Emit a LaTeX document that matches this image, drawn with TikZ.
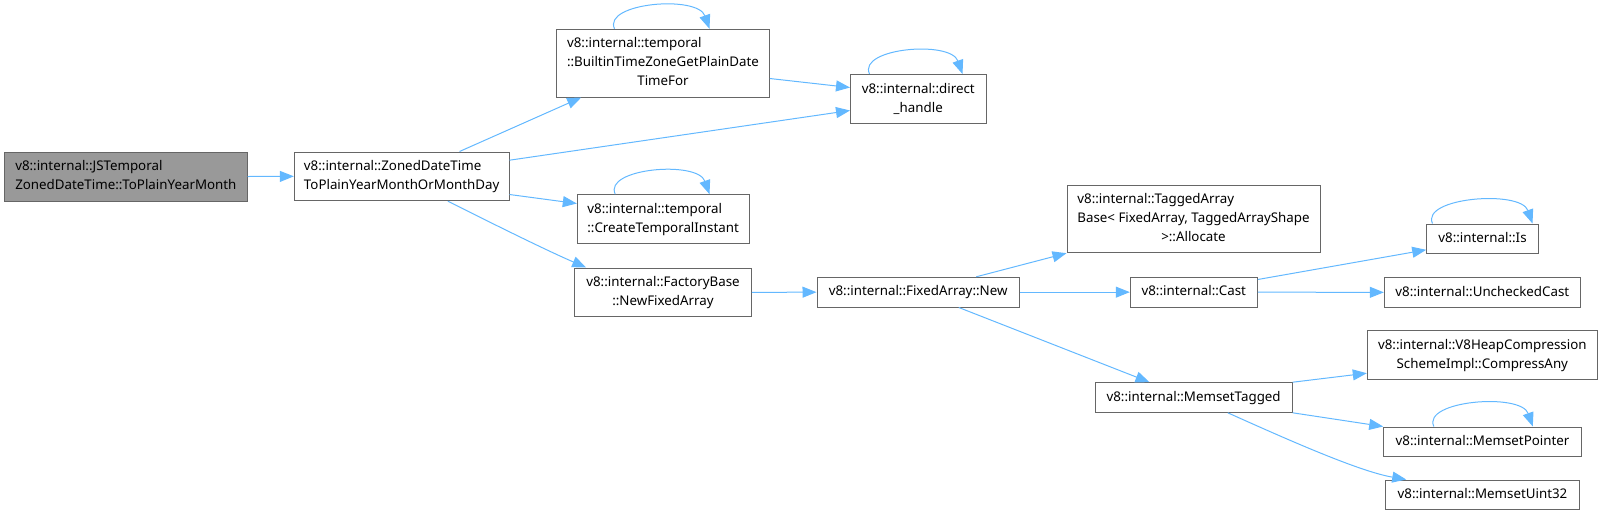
\documentclass[tikz,border=0pt]{standalone}
\usepackage{fontspec}
\setmainfont{Noto Sans}
\usetikzlibrary{arrows.meta,calc}
\definecolor{edgeblue}{HTML}{63B8FF}
\definecolor{boxgray}{HTML}{666666}
\definecolor{rootgray}{HTML}{999999}
\newcommand{\dxtab}[1]{\begin{tabular}{@{}l@{}}#1\end{tabular}}
\newcommand{\dxc}[1]{\multicolumn{1}{@{}c@{}}{#1}}
\tikzset{
  box/.style={draw=boxgray, line width=1pt, fill=white, inner sep=0pt,
    font=\fontsize{13.33}{19}\selectfont},
  edge/.style={draw=edgeblue, line width=1pt, -{Triangle[length=14pt,width=11pt]}}
}
\begin{document}
\begin{tikzpicture}[x=1pt,y=-1pt]
\useasboundingbox (0,0) rectangle (1603,515);
% nodes
\node[box, fill=rootgray, minimum width=242.3pt, minimum height=49pt] (A) at (125.85,176.5)
  {\dxtab{v8::internal::JSTemporal\\\dxc{ZonedDateTime::ToPlainYearMonth}}};
\node[box, minimum width=214.7pt, minimum height=48.7pt] (B) at (401.65,176.35)
  {\dxtab{v8::internal::ZonedDateTime\\\dxc{ToPlainYearMonthOrMonthDay}}};
\node[box, minimum width=212.6pt, minimum height=67.7pt] (C) at (663,63.15)
  {\dxtab{v8::internal::temporal\\::BuiltinTimeZoneGetPlainDate\\\dxc{TimeFor}}};
\node[box, minimum width=135.5pt, minimum height=48.8pt] (D) at (918.25,98.9)
  {\dxtab{v8::internal::direct\\\dxc{\_handle}}};
\node[box, minimum width=171.7pt, minimum height=48.6pt] (E) at (663.15,219)
  {\dxtab{v8::internal::temporal\\\dxc{::CreateTemporalInstant}}};
\node[box, minimum width=176.6pt, minimum height=48.7pt] (F) at (663,292.35)
  {\dxtab{v8::internal::FactoryBase\\\dxc{::NewFixedArray}}};
\node[box, minimum width=202.3pt, minimum height=29.7pt] (G) at (918.15,292.15)
  {\dxtab{v8::internal::FixedArray::New}};
\node[box, minimum width=253pt, minimum height=67.7pt] (H) at (1193.5,218.85)
  {\dxtab{v8::internal::TaggedArray\\Base< FixedArray, TaggedArrayShape\\\dxc{>::Allocate}}};
\node[box, minimum width=127pt, minimum height=29.7pt] (I) at (1193.8,292.15)
  {\dxtab{v8::internal::Cast}};
\node[box, minimum width=197.2pt, minimum height=29.6pt] (J) at (1193.6,397.5)
  {\dxtab{v8::internal::MemsetTagged}};
\node[box, minimum width=111.6pt, minimum height=29.7pt] (K) at (1482.5,238.85)
  {\dxtab{v8::internal::Is}};
\node[box, minimum width=196pt, minimum height=29.3pt] (L) at (1482.3,292.35)
  {\dxtab{v8::internal::UncheckedCast}};
\node[box, minimum width=230pt, minimum height=48.6pt] (M) at (1482.3,355)
  {\dxtab{v8::internal::V8HeapCompression\\\dxc{SchemeImpl::CompressAny}}};
\node[box, minimum width=197.6pt, minimum height=29.3pt] (N) at (1482.5,441.65)
  {\dxtab{v8::internal::MemsetPointer}};
\node[box, minimum width=193.6pt, minimum height=29.5pt] (O) at (1482.5,494.75)
  {\dxtab{v8::internal::MemsetUint32}};
% edges
\draw[edge] (A.east) -- (B.west);
\draw[edge] ([xshift=165.7pt]B.north west) -- ([xshift=25pt]C.south west);
\draw[edge] ([yshift=-8.7pt]B.north east) -- ([yshift=13.3pt]D.south west);
\draw[edge] ([yshift=19pt]C.south east) -- ([yshift=-13.5pt]D.north west);
\draw[edge] ([yshift=6.7pt]B.south east) -- ([yshift=-9.3pt]E.north west);
\draw[edge] ([xshift=154pt]B.south west) .. controls +(42,21) and +(-41.7,-18) .. ([xshift=12pt]F.north west);
\draw[edge] (F.east) -- (G.west);
\draw[edge] ([xshift=159.7pt]G.north west) -- (H.south west);
\draw[edge] (G.east) -- (I.west);
\draw[edge] ([xshift=142.3pt]G.south west) -- ([xshift=55pt]J.north west);
\draw[edge] ([yshift=-2.7pt]I.north east) -- ([yshift=4.4pt]K.south west);
\draw[edge] (I.east) -- (L.west);
\draw[edge] (J.north east) -- ([yshift=6.6pt]M.south west);
\draw[edge] (J.south east) -- (N.north west);
\draw[edge] ([xshift=133.3pt]J.south west) .. controls +(61.7,27.7) and +(-46.7,-8) .. ([xshift=21pt]O.north west);
% self loops
\draw[edge] ([xshift=58.3pt]C.north west) .. controls +(-12,-26) and +(-12,-34) .. ([xshift=153.3pt]C.north west);
\draw[edge] ([xshift=19.5pt]D.north west) .. controls +(-12,-26) and +(-12,-34) .. ([xshift=112.5pt]D.north west);
\draw[edge] ([xshift=38.4pt]E.north west) .. controls +(-12,-26) and +(-12,-34) .. ([xshift=132.7pt]E.north west);
\draw[edge] ([xshift=6.3pt]K.north west) .. controls +(-12,-26) and +(-12,-34) .. ([xshift=106.3pt]K.north west);
\draw[edge] ([xshift=50.6pt]N.north west) .. controls +(-12,-26) and +(-12,-34) .. ([xshift=149.6pt]N.north west);
\end{tikzpicture}
\end{document}
